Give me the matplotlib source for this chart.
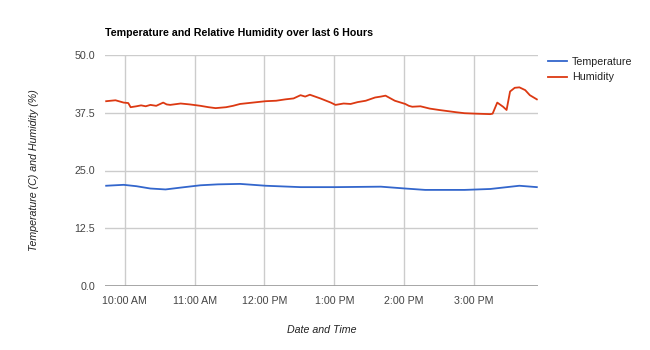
import matplotlib
matplotlib.use("Agg")
import matplotlib.pyplot as plt
import matplotlib.dates as mdates
import pandas as pd

plt.rcParams['font.family'] = ['Liberation Sans', 'DejaVu Sans']

day = "2024-01-01 "

temp_times = ["09:44", "09:59", "10:10", "10:22", "10:35", "10:48", "11:05",
              "11:20", "11:39", "12:01", "12:31", "13:01", "13:40", "14:01",
              "14:18", "14:52", "15:14", "15:39", "15:54"]
temp_values = [21.7, 21.9, 21.6, 21.1, 20.9, 21.3, 21.8,
               22.0, 22.1, 21.7, 21.4, 21.4, 21.5, 21.1,
               20.8, 20.8, 21.0, 21.7, 21.4]

hum_times = ["09:44", "09:52", "09:59", "10:03", "10:05", "10:10", "10:14",
             "10:18", "10:22", "10:27", "10:33", "10:36", "10:39", "10:48",
             "10:56", "11:05", "11:12", "11:18", "11:27", "11:33", "11:39",
             "11:50", "12:01", "12:10", "12:18", "12:25", "12:31", "12:35",
             "12:39", "12:48", "12:57", "13:01", "13:08", "13:14", "13:20",
             "13:27", "13:35", "13:40", "13:44", "13:52", "14:01", "14:04",
             "14:07", "14:14", "14:22", "14:30", "14:39", "14:45", "14:52",
             "15:02", "15:14", "15:16", "15:20", "15:25", "15:28", "15:31",
             "15:35", "15:39", "15:44", "15:48", "15:54"]
hum_values = [40.0, 40.2, 39.7, 39.6, 38.7, 38.9, 39.1,
              38.9, 39.2, 39.0, 39.7, 39.3, 39.2, 39.5,
              39.3, 39.0, 38.7, 38.5, 38.7, 39.0, 39.4,
              39.7, 40.0, 40.1, 40.4, 40.6, 41.3, 41.0,
              41.4, 40.6, 39.7, 39.2, 39.5, 39.4, 39.8,
              40.1, 40.8, 41.0, 41.2, 40.1, 39.4, 39.0,
              38.8, 38.9, 38.4, 38.1, 37.8, 37.6, 37.4,
              37.3, 37.2, 37.3, 39.7, 38.8, 38.1, 42.1,
              42.9, 43.0, 42.4, 41.3, 40.4]

y_ticks = [0.0, 12.5, 25.0, 37.5, 50.0]
x_start, x_end = "09:43", "15:55"

t_temp = pd.to_datetime([day + t for t in temp_times])
t_hum = pd.to_datetime([day + t for t in hum_times])

fs = 7.7

fig = plt.figure(figsize=(6.5, 3.5), dpi=100)
ax = fig.add_axes([105 / 650, 64 / 350, 433 / 650, 231 / 350])

ax.plot(t_temp, temp_values, color="#3366cc", lw=1.3, label="Temperature")
ax.plot(t_hum, hum_values, color="#dc3912", lw=1.3, label="Humidity")

ax.set_xlim(pd.Timestamp(day + x_start), pd.Timestamp(day + x_end))
ax.set_ylim(0, 50)
ax.set_yticks(y_ticks)
ax.set_yticklabels([f"{v:.1f}" for v in y_ticks])
ax.xaxis.set_major_locator(mdates.HourLocator())
ax.xaxis.set_major_formatter(mdates.DateFormatter("%-I:%M %p"))

ax.grid(True, color="#cccccc", lw=1)
ax.set_axisbelow(True)
for s in ax.spines.values():
    s.set_visible(False)
ax.axhline(0, color="#999999", lw=1.2, zorder=1)
ax.tick_params(length=0, labelsize=fs, colors="#444444", pad=7)

ax.set_title("Temperature and Relative Humidity over last 6 Hours",
             loc="left", fontsize=fs, fontweight="bold", color="#000000",
             pad=14)
ax.set_xlabel("Date and Time", fontsize=fs, style="italic",
              color="#222222", labelpad=14)
ax.set_ylabel("Temperature (C) and Humidity (%)", fontsize=fs,
              style="italic", color="#222222", labelpad=26)

ax.legend(loc="upper left", bbox_to_anchor=(1.0, 1.035), frameon=False,
          fontsize=fs, handlelength=1.8, handletextpad=0.5,
          labelspacing=0.55, labelcolor="#222222")

fig.savefig("out.png", dpi=100)
